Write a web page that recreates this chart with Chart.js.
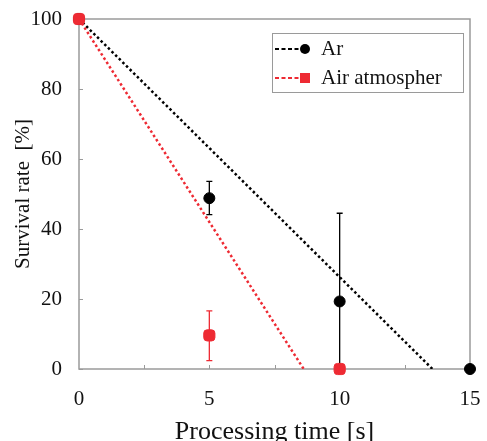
<!DOCTYPE html>
<html>
<head>
<meta charset="utf-8">
<script src="https://cdn.jsdelivr.net/npm/chart.js@4.4.1/dist/chart.umd.min.js"></script>
<style>
  html, body { margin: 0; padding: 0; background: #fff; }
  #wrap { width: 487px; height: 441px; }
</style>
</head>
<body>
<div id="wrap"><canvas id="survivalChart" width="487" height="441"></canvas></div>
<script>
// processing time [s] and survival rate [%]
const arTimes = [0, 5, 10, 15];
const arRate = [100, 48.8, 19.3, 0];
const arErrLow = [null, 44.1, 0, null];
const arErrHigh = [null, 53.6, 44.5, null];

const airTimes = [0, 5, 10];
const airRate = [100, 9.6, 0];
const airErrLow = [null, 2.4, null];
const airErrHigh = [null, 16.6, null];

// dotted fit lines (start / end)
const arFitTimes = [0, 13.56];
const arFitRate = [100, 0];
const airFitTimes = [0, 8.62];
const airFitRate = [100, 0];

const xTickValues = [0, 5, 10, 15];
const xMinorTicks = [2.5, 5, 7.5, 10, 12.5];
const yTickValues = [0, 20, 40, 60, 80, 100];

const seriesNames = ['Ar', 'Air atmospher'];
const BLACK = '#000000';
const RED = '#ee2a33';
const FRAME = '#9a9a9a';
const FONT = "'Liberation Serif', 'DejaVu Serif', serif";

function toPoints(xs, ys) {
    return xs.map(function(x, i) { return { x: x, y: ys[i] }; });
}

// error bars, frame and inner tick marks
const extrasPlugin = {
    id: 'extras',
    beforeDatasetsDraw(chart) {
        const ctx = chart.ctx;
        const xs = chart.scales.x, ys = chart.scales.y;
        const sets = [
            [arTimes, arErrLow, arErrHigh, BLACK],
            [airTimes, airErrLow, airErrHigh, RED]
        ];
        ctx.save();
        ctx.lineWidth = 1.3;
        sets.forEach(function(s) {
            s[0].forEach(function(t, i) {
                if (s[1][i] === null) return;
                const px = xs.getPixelForValue(t);
                const lo = ys.getPixelForValue(s[1][i]);
                const hi = ys.getPixelForValue(s[2][i]);
                ctx.strokeStyle = s[3];
                ctx.beginPath();
                ctx.moveTo(px, lo); ctx.lineTo(px, hi);
                ctx.moveTo(px - 3, hi); ctx.lineTo(px + 3, hi);
                if (s[1][i] > 0) { ctx.moveTo(px - 3, lo); ctx.lineTo(px + 3, lo); }
                ctx.stroke();
            });
        });
        ctx.restore();
    },
    beforeDraw(chart) {
        const ctx = chart.ctx;
        const a = chart.chartArea;
        const xs = chart.scales.x, ys = chart.scales.y;
        ctx.save();
        ctx.strokeStyle = FRAME;
        ctx.lineWidth = 1.5;
        ctx.strokeRect(a.left, a.top, a.right - a.left, a.bottom - a.top);
        ctx.lineWidth = 1;
        ctx.beginPath();
        yTickValues.forEach(function(v) {
            const py = Math.round(ys.getPixelForValue(v)) + 0.5;
            ctx.moveTo(a.left, py); ctx.lineTo(a.left + 4, py);
        });
        xMinorTicks.forEach(function(v) {
            const px = Math.round(xs.getPixelForValue(v)) + 0.5;
            ctx.moveTo(px, a.bottom); ctx.lineTo(px, a.bottom - 4);
        });
        ctx.stroke();
        ctx.restore();
    },
    afterDraw(chart) {
        const ctx = chart.ctx;
        const box = { x: 272, y: 33, w: 191, h: 59 };
        ctx.save();
        ctx.fillStyle = '#fff';
        ctx.fillRect(box.x, box.y, box.w, box.h);
        ctx.strokeStyle = FRAME;
        ctx.lineWidth = 1;
        ctx.strokeRect(box.x + 0.5, box.y + 0.5, box.w, box.h);
        const colors = [BLACK, RED];
        seriesNames.forEach(function(name, i) {
            const cy = 49 + i * 29;
            ctx.strokeStyle = colors[i];
            ctx.lineWidth = 2;
            ctx.setLineDash([4, 2.5]);
            ctx.beginPath();
            ctx.moveTo(275, cy); ctx.lineTo(305, cy);
            ctx.stroke();
            ctx.setLineDash([]);
            ctx.fillStyle = colors[i];
            if (i === 0) {
                ctx.beginPath(); ctx.arc(305, cy, 5, 0, Math.PI * 2); ctx.fill();
            } else {
                ctx.fillRect(300, cy - 5, 10, 10);
            }
            ctx.fillStyle = '#111';
            ctx.font = '21px ' + FONT;
            ctx.textBaseline = 'middle';
            ctx.fillText(name, 321, cy);
        });
        ctx.restore();
    }
};

const ctx = document.getElementById('survivalChart').getContext('2d');
const chart = new Chart(ctx, {
    type: 'scatter',
    data: {
        datasets: [{
            label: seriesNames[0] + ' fit',
            data: toPoints(arFitTimes, arFitRate),
            showLine: true,
            borderColor: BLACK,
            borderWidth: 2.5,
            borderDash: [2.5, 2.6],
            pointRadius: 0,
            order: 4
        }, {
            label: seriesNames[1] + ' fit',
            data: toPoints(airFitTimes, airFitRate),
            showLine: true,
            borderColor: RED,
            borderWidth: 2.5,
            borderDash: [2.5, 2.6],
            pointRadius: 0,
            order: 3
        }, {
            label: seriesNames[0],
            data: toPoints(arTimes, arRate),
            backgroundColor: BLACK,
            borderColor: BLACK,
            pointStyle: 'circle',
            pointRadius: 5.5,
            clip: false,
            order: 2
        }, {
            label: seriesNames[1],
            data: toPoints(airTimes, airRate),
            backgroundColor: RED,
            borderColor: RED,
            pointStyle: 'rectRounded',
            pointRadius: 6.5,
            clip: false,
            order: 1
        }]
    },
    options: {
        responsive: false,
        animation: false,
        devicePixelRatio: 1,
        layout: { padding: { top: 19, right: 17, left: 0, bottom: 0 } },
        plugins: {
            legend: { display: false },
            tooltip: { enabled: false }
        },
        scales: {
            x: {
                type: 'linear',
                min: 0,
                max: 15,
                afterFit: function(scale) {
                    scale.height = 72;
                    scale.paddingLeft = 0;
                    scale.paddingRight = 0;
                },
                afterBuildTicks: function(scale) {
                    scale.ticks = xTickValues.map(function(v) { return { value: v }; });
                },
                grid: { display: false, drawTicks: false },
                border: { display: false },
                ticks: {
                    padding: 18,
                    color: '#111',
                    font: { family: FONT, size: 21 },
                    maxRotation: 0
                },
                title: {
                    display: true,
                    text: 'Processing time [s]',
                    color: '#111',
                    font: { family: FONT, size: 26 },
                    padding: { top: 0, bottom: -7 }
                }
            },
            y: {
                type: 'linear',
                min: 0,
                max: 100,
                afterFit: function(scale) {
                    scale.width = 79;
                    scale.paddingTop = 0;
                    scale.paddingBottom = 0;
                },
                afterBuildTicks: function(scale) {
                    scale.ticks = yTickValues.map(function(v) { return { value: v }; });
                },
                grid: { display: false, drawTicks: false },
                border: { display: false },
                ticks: {
                    padding: 17,
                    color: '#111',
                    font: { family: FONT, size: 21 }
                },
                title: {
                    display: true,
                    text: 'Survival rate  [%]',
                    color: '#111',
                    font: { family: FONT, size: 21 },
                    padding: { top: 11, bottom: 0 }
                }
            }
        }
    },
    plugins: [extrasPlugin]
});
</script>
</body>
</html>
